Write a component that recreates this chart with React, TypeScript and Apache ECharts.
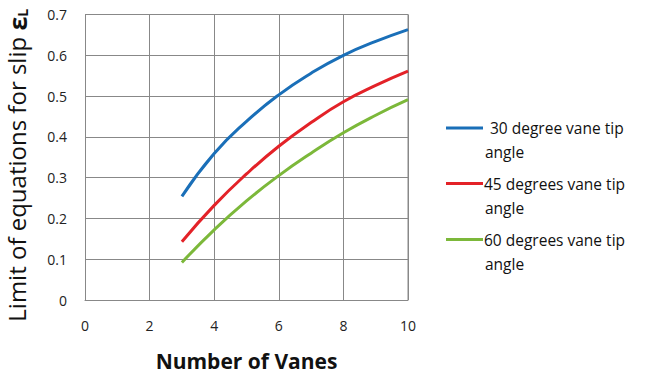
import React, { useEffect, useRef } from "react";
import * as echarts from "echarts";

const xVanes = [3, 4, 5, 6, 7, 8, 9, 10];
const blue30 = [0.254, 0.359, 0.438, 0.503, 0.556, 0.600, 0.634, 0.663];
const red45 = [0.143, 0.232, 0.309, 0.377, 0.435, 0.486, 0.526, 0.561];
const green60 = [0.092, 0.172, 0.243, 0.305, 0.360, 0.410, 0.453, 0.491];
const seriesNames = ["30 degree vane tip", "45 degrees vane tip", "60 degrees vane tip"];
const seriesColors = ["#1a6fb8", "#e32228", "#7cb83a"];

const FONT = "'Open Sans', 'Noto Sans', sans-serif";

export default function App() {
  const ref = useRef<HTMLDivElement>(null);
  useEffect(() => {
    if (!ref.current) return;
    const chart = echarts.init(ref.current, undefined, { renderer: "svg" });
    const toPairs = (ys: number[]) => xVanes.map((x, i) => [x, ys[i]]);
    const allData = [blue30, red45, green60];
    const legendY = [128, 183.5, 239.5];
    const graphic: any[] = [];
    seriesNames.forEach((n, i) => {
      graphic.push({
        type: "line",
        shape: { x1: 446, y1: legendY[i], x2: 483, y2: legendY[i] },
        style: { stroke: seriesColors[i], lineWidth: 3 },
      });
      graphic.push({
        type: "text",
        x: i === 0 ? 490 : 484,
        y: legendY[i],
        style: { text: n, font: `15.5px ${FONT}`, fill: "#111", textVerticalAlign: "middle" },
      });
      graphic.push({
        type: "text",
        x: 485,
        y: legendY[i] + 24,
        style: { text: "angle", font: `15.5px ${FONT}`, fill: "#111", textVerticalAlign: "middle" },
      });
    });
    chart.setOption({
      animation: false,
      grid: { left: 85, right: 237, top: 14.5, bottom: 77, show: false, containLabel: false, outerBoundsMode: "none" },
      xAxis: {
        type: "value",
        min: 0,
        max: 10,
        interval: 2,
        name: "Number of Vanes",
        nameLocation: "middle",
        nameGap: 50,
        nameTextStyle: { fontFamily: FONT, fontSize: 21, fontWeight: "bold", color: "#111" },
        axisLine: { show: true, lineStyle: { color: "#888", width: 1 } },
        axisTick: { show: false },
        axisLabel: { margin: 18, fontFamily: FONT, fontSize: 14, color: "#222" },
        splitLine: { show: true, lineStyle: { color: "#888", width: 1 } },
      },
      yAxis: {
        type: "value",
        min: 0,
        max: 0.7,
        interval: 0.1,
        name: "{a|Limit of equations for slip }{b|ε}{c|L}",
        nameLocation: "middle",
        nameGap: 56,
        nameRotate: 90,
        nameTextStyle: {
          fontFamily: FONT,
          fontSize: 24,
          color: "#111",
          padding: [0, 16, 0, 0],
          rich: {
            a: { fontFamily: FONT, fontSize: 24, color: "#111" },
            b: { fontFamily: FONT, fontSize: 25, fontWeight: "bold", color: "#111" },
            c: { fontFamily: FONT, fontSize: 14, fontWeight: "bold", color: "#111", verticalAlign: "bottom", padding: [10, 0, 0, 0] },
          },
        },
        axisLine: { show: true, lineStyle: { color: "#888", width: 1 } },
        axisTick: { show: false },
        axisLabel: { margin: 18, fontFamily: FONT, fontSize: 14, color: "#222", formatter: (v: number) => (v === 0 ? "0" : v.toFixed(1)) },
        splitLine: { show: true, lineStyle: { color: "#888", width: 1 } },
      },
      series: allData.map((d, i) => ({
        type: "line",
        name: seriesNames[i],
        data: toPairs(d),
        smooth: 0.5,
        showSymbol: false,
        lineStyle: { color: seriesColors[i], width: 3 },
        itemStyle: { color: seriesColors[i] },
      })),
      graphic: [
        ...graphic,
        {
          type: "line",
          shape: { x1: 408, y1: 14.5, x2: 408, y2: 300 },
          style: { stroke: "#888", lineWidth: 1 },
        },
        {
          type: "line",
          shape: { x1: 85, y1: 14.5, x2: 408, y2: 14.5 },
          style: { stroke: "#888", lineWidth: 1 },
        },
      ],
    });
    return () => chart.dispose();
  }, []);
  return <div ref={ref} style={{ width: 645, height: 377, position: "absolute", left: 0, top: 0, background: "#fff" }} />;
}
